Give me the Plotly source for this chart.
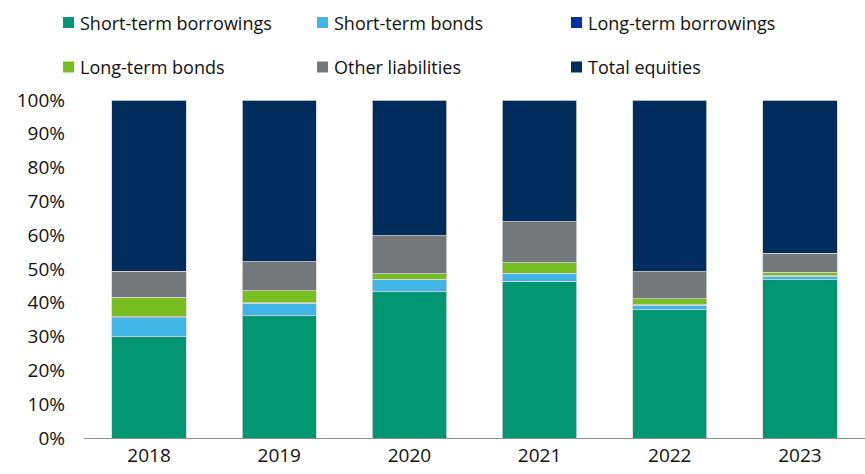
import plotly.graph_objects as go

years = ["2018", "2019", "2020", "2021", "2022", "2023"]
short_term_borrowings = [30.0, 36.1, 43.3, 46.4, 38.0, 46.8]
short_term_bonds = [5.6, 3.8, 3.5, 2.3, 1.3, 1.1]
long_term_borrowings = [0.3, 0.1, 0.1, 0.1, 0.1, 0.1]
long_term_bonds = [5.8, 3.6, 1.7, 3.1, 1.8, 1.0]
other_liabilities = [7.7, 8.5, 11.3, 12.1, 8.0, 5.7]
total_equities = [50.6, 47.9, 40.1, 36.0, 50.8, 45.3]

series = [
    ("Short-term borrowings", short_term_borrowings, "#009673"),
    ("Short-term bonds", short_term_bonds, "#41b6e6"),
    ("Long-term borrowings", long_term_borrowings, "#0033a0"),
    ("Long-term bonds", long_term_bonds, "#78be20"),
    ("Other liabilities", other_liabilities, "#75787b"),
    ("Total equities", total_equities, "#002d5c"),
]

FONT = "Open Sans"
W, H = 865, 474
L, R, T, B = 84, 0, 100, 36
pw, ph = W - L - R, H - T - B

fig = go.Figure()
for name, vals, col in series:
    fig.add_trace(go.Bar(
        x=years, y=vals, name=name, marker_color=col,
        marker_line=dict(color="#d6d6d6", width=0.8),
        showlegend=False,
    ))

# custom legend (square swatch close to text)
col_x = [63, 317, 571]
row_y = [22.5, 67]
shapes = []
annotations = []
for i, (name, vals, col) in enumerate(series):
    px = col_x[i % 3]
    py = row_y[i // 3]
    x0 = (px - L) / pw
    x1 = (px + 11 - L) / pw
    y0 = (H - B - (py + 5.5)) / ph
    y1 = (H - B - (py - 5.5)) / ph
    shapes.append(dict(type="rect", xref="paper", yref="paper", x0=x0, x1=x1, y0=y0, y1=y1,
                       fillcolor=col, line=dict(width=0)))
    annotations.append(dict(text=name, xref="paper", yref="paper",
                            x=(px + 15 - L) / pw, y=(H - B - py) / ph,
                            xanchor="left", yanchor="middle", showarrow=False,
                            font=dict(family=FONT, size=18, color="#111111")))

fig.update_layout(
    width=W, height=H,
    margin=dict(l=L, r=R, t=T, b=B),
    barmode="stack", bargap=0.43,
    plot_bgcolor="white", paper_bgcolor="white",
    font=dict(family=FONT, size=19, color="#111111"),
    shapes=shapes, annotations=annotations,
    xaxis=dict(showgrid=False, showline=True, linecolor="#8c8c8c", linewidth=1,
               ticks="", tickfont=dict(size=19)),
    yaxis=dict(range=[0, 100], dtick=10, showgrid=False, zeroline=False,
               ticksuffix="%", ticks="", ticklabelstandoff=18, tickfont=dict(size=19)),
)

fig.write_html("out.html")
